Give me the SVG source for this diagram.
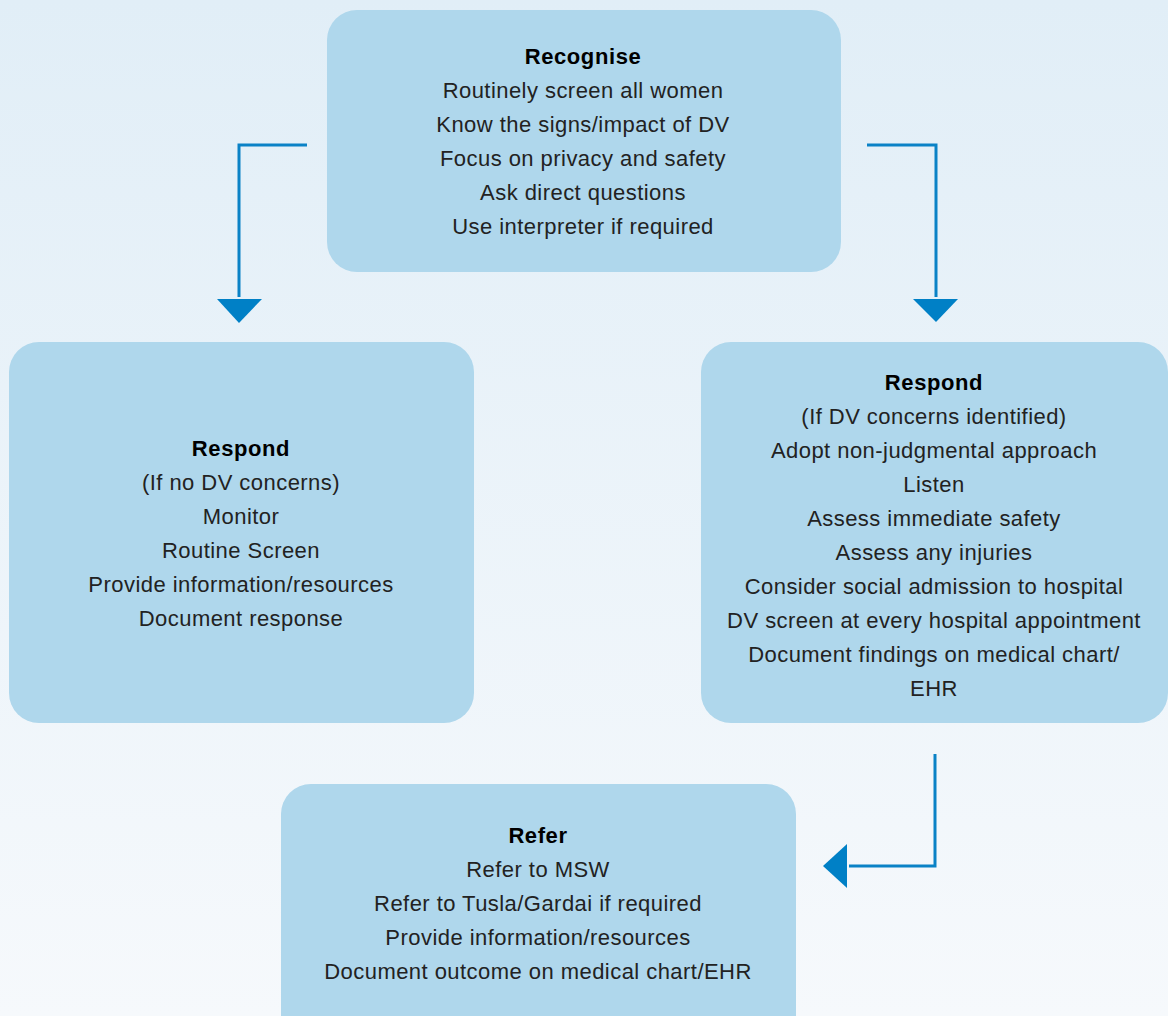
<svg xmlns="http://www.w3.org/2000/svg" width="1168" height="1016" viewBox="0 0 1168 1016">
<defs>
<linearGradient id="bg" x1="0" y1="0" x2="0" y2="1">
<stop offset="0" stop-color="#e1eef7"/>
<stop offset="1" stop-color="#f6f9fc"/>
</linearGradient>
<style>
.box{fill:#afd7ec}
.t{font-family:"Liberation Sans",Arial,sans-serif;font-size:22px;letter-spacing:0.45px;fill:#222;text-anchor:middle}
.b{font-weight:bold;fill:#000;letter-spacing:0.6px}
.c{fill:none;stroke:#0a82c6;stroke-width:3}
.h{fill:#0080c6}
</style>
</defs>
<rect width="1168" height="1016" fill="url(#bg)"/>
<g id="recognise">
<rect class="box" x="327" y="10" width="514" height="262" rx="30"/>
<text class="t b" x="583" y="64">Recognise</text>
<text class="t" x="583" y="98">Routinely screen all women</text>
<text class="t" x="583" y="132">Know the signs/impact of DV</text>
<text class="t" x="583" y="166">Focus on privacy and safety</text>
<text class="t" x="583" y="200">Ask direct questions</text>
<text class="t" x="583" y="234">Use interpreter if required</text>
</g>
<g id="respond-no">
<rect class="box" x="9" y="342" width="465" height="381" rx="30"/>
<text class="t b" x="241" y="456">Respond</text>
<text class="t" x="241" y="490">(If no DV concerns)</text>
<text class="t" x="241" y="524">Monitor</text>
<text class="t" x="241" y="558">Routine Screen</text>
<text class="t" x="241" y="592">Provide information/resources</text>
<text class="t" x="241" y="626">Document response</text>
</g>
<g id="respond-yes">
<rect class="box" x="701" y="342" width="467" height="381" rx="30"/>
<text class="t b" x="934" y="390">Respond</text>
<text class="t" x="934" y="424">(If DV concerns identified)</text>
<text class="t" x="934" y="458">Adopt non-judgmental approach</text>
<text class="t" x="934" y="492">Listen</text>
<text class="t" x="934" y="526">Assess immediate safety</text>
<text class="t" x="934" y="560">Assess any injuries</text>
<text class="t" x="934" y="594">Consider social admission to hospital</text>
<text class="t" x="934" y="628">DV screen at every hospital appointment</text>
<text class="t" x="934" y="662">Document findings on medical chart/</text>
<text class="t" x="934" y="696">EHR</text>
</g>
<g id="refer">
<rect class="box" x="281" y="784" width="515" height="280" rx="30"/>
<text class="t b" x="538" y="843">Refer</text>
<text class="t" x="538" y="877">Refer to MSW</text>
<text class="t" x="538" y="911">Refer to Tusla/Gardai if required</text>
<text class="t" x="538" y="945">Provide information/resources</text>
<text class="t" x="538" y="979">Document outcome on medical chart/EHR</text>
</g>
<g id="connectors">
<polyline class="c" points="307,145 239,145 239,297"/>
<polygon class="h" points="217,299 262,299 239,323"/>
<polyline class="c" points="867,145 936,145 936,297"/>
<polygon class="h" points="913,299 958,299 936,322"/>
<polyline class="c" points="935,754 935,866 849,866"/>
<polygon class="h" points="847,844 847,888 823,866"/>
</g>
</svg>
